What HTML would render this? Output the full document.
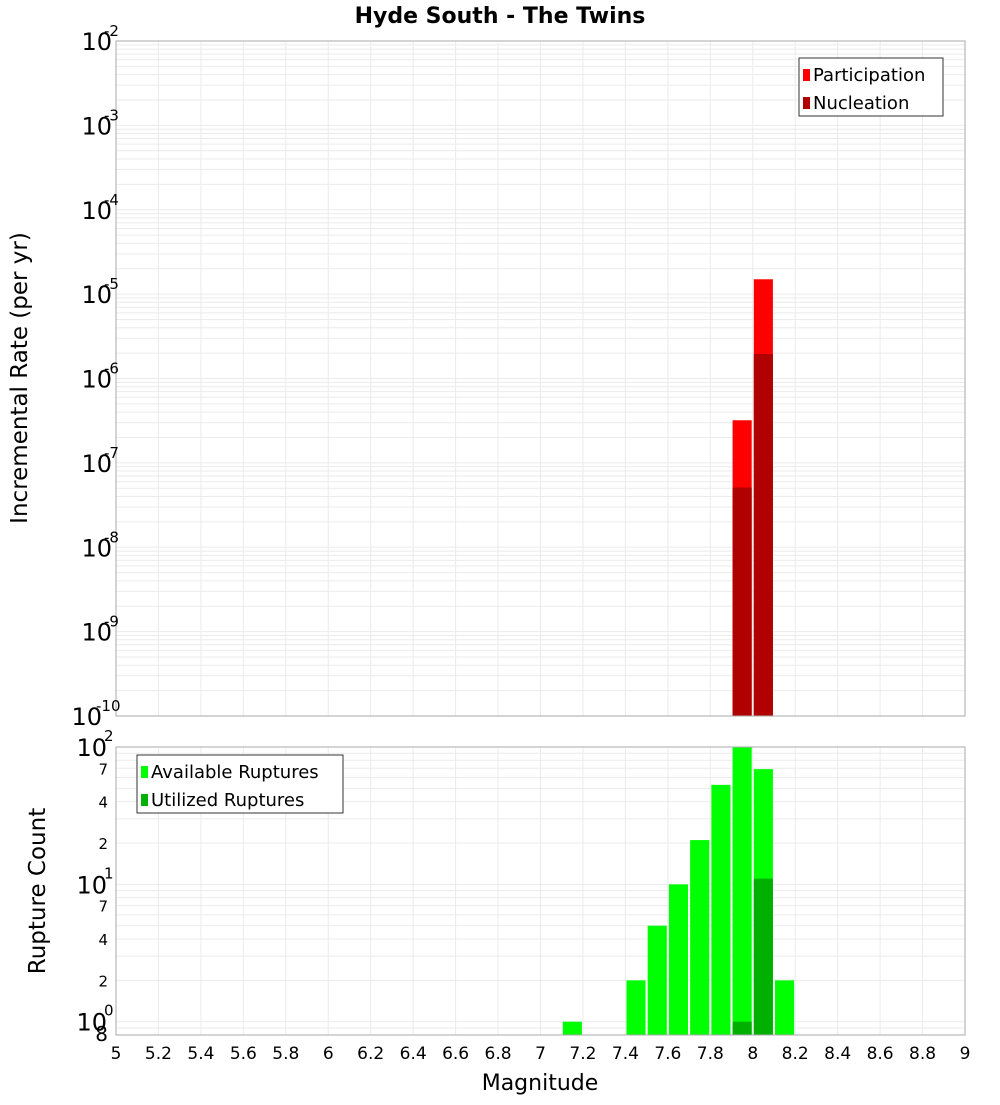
<!DOCTYPE html>
<html><head><meta charset="utf-8"><style>
body{margin:0;background:#fff;font-family:"Liberation Sans","DejaVu Sans",sans-serif}
svg text{font-family:"DejaVu Sans","Liberation Sans",sans-serif}
</style></head><body>
<svg id="c" width="1000" height="1100" xmlns="http://www.w3.org/2000/svg">
<text x="500" y="23" text-anchor="middle" font-size="22" font-weight="bold">Hyde South - The Twins</text>
<text transform="translate(27,378) rotate(-90)" text-anchor="middle" font-size="23">Incremental Rate (per yr)</text>
<text transform="translate(45,891) rotate(-90)" text-anchor="middle" font-size="23">Rupture Count</text>
<text x="540" y="1090" text-anchor="middle" font-size="22">Magnitude</text>
<g id="top"></g><g id="bot"></g>
</svg>
<script>
const mags=[7.95,8.05];
const participation=[3.2e-7,1.5e-5];
const nucleation=[5.1e-8,1.95e-6];
const countMags=[7.15,7.45,7.55,7.65,7.75,7.85,7.95,8.05,8.15];
const available=[1,2,5,10,21,53,100,69,2];
const utilMags=[7.95,8.05];
const utilized=[1,11];
const xTicks=[5,5.2,5.4,5.6,5.8,6,6.2,6.4,6.6,6.8,7,7.2,7.4,7.6,7.8,8,8.2,8.4,8.6,8.8,9];
const topExps=[-2,-3,-4,-5,-6,-7,-8,-9,-10];
const botMinor=[2,4,7,20,40,70];

const NS="http://www.w3.org/2000/svg";
const X0=116,X1=965;
const x=m=>X0+(m-5)/4*(X1-X0);
const T0=41,T1=716,yT=v=>T0+(-2-Math.log10(v))/8*(T1-T0);
const B0=747,B1=1035,bMin=Math.log10(0.8),yB=v=>B0+(2-Math.log10(v))/(2-bMin)*(B1-B0);
function mk(p,t,a){const e=document.createElementNS(NS,t);for(const k in a)e.setAttribute(k,a[k]);p.appendChild(e);return e;}
const svg=document.getElementById('c');
const gTop=document.getElementById('top'),gBot=document.getElementById('bot');
let f=mk(gTop,'rect',{x:X0,y:T0,width:X1-X0,height:T1-T0,fill:'#fff',stroke:'none'});


f=mk(gBot,'rect',{x:X0,y:B0,width:X1-X0,height:B1-B0,fill:'#fff',stroke:'none'});


for(let e=-10;e<-2;e++)for(let k=1;k<10;k++){const y=yT(k*Math.pow(10,e));
 const l=mk(gTop,'line',{x1:X0,x2:X1,y1:y,y2:y,stroke:'#ebebeb','stroke-width':1});
 
 }
for(let e=-1;e<2;e++)for(let k=1;k<10;k++){const v=k*Math.pow(10,e);if(v<0.8)continue;const y=yB(v);
 const l=mk(gBot,'line',{x1:X0,x2:X1,y1:y,y2:y,stroke:'#ebebeb','stroke-width':1});
 
 }
xTicks.forEach(t=>{const xx=x(t);
 let l=mk(gTop,'line',{x1:xx,x2:xx,y1:T0,y2:T1,stroke:'#ebebeb'});
 
 
 l=mk(gBot,'line',{x1:xx,x2:xx,y1:B0,y2:B1,stroke:'#ebebeb'});
 
 
 const tx=mk(svg,'text',{x:xx,y:1059,'text-anchor':'middle','font-size':17});tx.textContent=String(t);
 
 });
const W=x(5.09)-x(5);
function bar(g,m,v,yf,base,col,name){const r=mk(g,'rect',{x:x(m)-W/2,y:yf(v),width:W,height:base-yf(v),fill:col});
 
 }
mags.forEach((m,i)=>bar(gTop,m,participation[i],yT,T1,'#ff0000','participation-bar'));
mags.forEach((m,i)=>bar(gTop,m,nucleation[i],yT,T1,'#b00000','nucleation-bar'));
countMags.forEach((m,i)=>bar(gBot,m,available[i],yB,B1,'#00ff00','available-bar'));
utilMags.forEach((m,i)=>bar(gBot,m,utilized[i],yB,B1,'#00b000','utilized-bar'));
f=mk(gTop,'rect',{x:X0,y:T0,width:X1-X0,height:T1-T0,fill:'none',stroke:'#aaa'});


f=mk(gBot,'rect',{x:X0,y:B0,width:X1-X0,height:B1-B0,fill:'none',stroke:'#aaa'});


topExps.forEach(e=>{const y=yT(Math.pow(10,e));
 const t=mk(svg,'text',{x:e==-10?102:112,y:y+9,'text-anchor':'end','font-size':24});
 t.textContent='10';
 
 
 const s=mk(svg,'text',{x:e==-10?96:104,y:y-5,'font-size':15});s.textContent=String(e);
 
 });
[[100,'2'],[10,'1'],[1,'0']].forEach(([v,e])=>{const y=yB(v);
 const t=mk(svg,'text',{x:107,y:y+9,'text-anchor':'end','font-size':24});t.textContent='10';
 
 
 const s=mk(svg,'text',{x:104,y:y-6,'font-size':15});s.textContent=e;
 
 });
botMinor.forEach(v=>{const y=yB(v);const t=mk(svg,'text',{x:108,y:y+6,'text-anchor':'end','font-size':15});t.textContent=String(v>=10?v/10:v);
 
 });
let t8=mk(svg,'text',{x:108,y:1041,'text-anchor':'end','font-size':20});t8.textContent='8';


function legend(x0,y0,w,items,name){const g=mk(svg,'g',{});
 
 
 mk(g,'rect',{x:x0,y:y0,width:w,height:58,fill:'#fff',stroke:'#333'});
 items.forEach(([c,l],i)=>{mk(g,'rect',{x:x0+4,y:y0+11+i*28,width:7,height:12,fill:c});
  const t=mk(g,'text',{x:x0+14,y:y0+23+i*28,'font-size':18});t.textContent=l;});}
legend(799,58,144,[['#ff0000','Participation'],['#b00000','Nucleation']],'top-legend');
legend(137,755,206,[['#00ff00','Available Ruptures'],['#00b000','Utilized Ruptures']],'bottom-legend');
</script>
</body></html>
